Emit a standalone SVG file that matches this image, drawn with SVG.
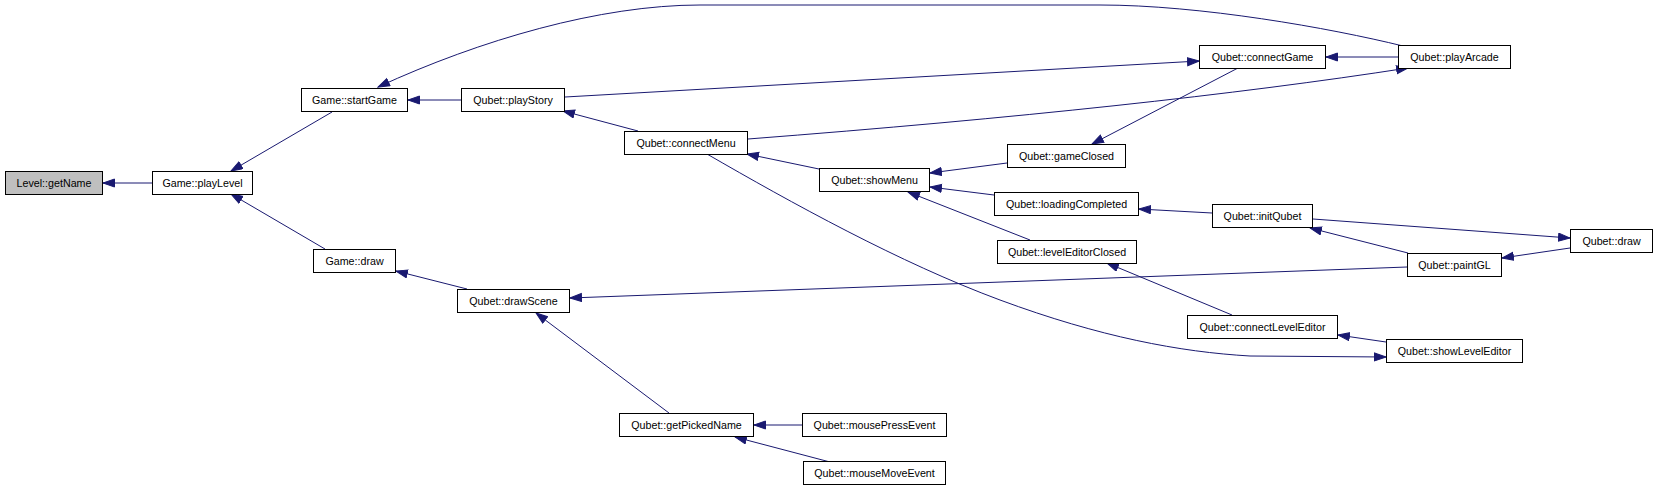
<svg xmlns="http://www.w3.org/2000/svg" width="1659" height="491" viewBox="0 0 1659 491">
<style>
.n rect{fill:#fff;stroke:#000;stroke-width:1}
.n.root rect{fill:#bfbfbf}
.n text{font-family:"Liberation Sans",Arial,sans-serif;font-size:10.7px;fill:#000;text-anchor:middle}
.e path{fill:none;stroke:#191970;stroke-width:1;marker-end:url(#ah)}
</style>
<defs>
<marker id="ah" markerUnits="userSpaceOnUse" markerWidth="13" markerHeight="10" refX="12" refY="4.5" orient="auto">
<path d="M0.5,0.5 L12,4.5 L0.5,8.5 z" fill="#191970" stroke="#191970" stroke-width="1"/>
</marker>
</defs>
<rect width="1659" height="491" fill="#fff"/>
<g id="edges" class="e">
<path d="M152,183 L103,183"/>
<path d="M332,112 L231,171"/>
<path d="M325,249 L231,194"/>
<path d="M462,100 L408,100"/>
<path d="M1403,46 C1330,28 1200,5 1100,5 L700,5 C600,5 480,40 378,87"/>
<path d="M638,131 L563,111"/>
<path d="M565,97 L1199,61"/>
<path d="M1398,57 L1326,57"/>
<path d="M748,139 Q1150,108 1408,68"/>
<path d="M1238,68 L1092,144"/>
<path d="M819,169 L747,154"/>
<path d="M1007,163 L930,173"/>
<path d="M994,195 L930,187"/>
<path d="M1030,240 L908,192"/>
<path d="M1212,213 L1139,209"/>
<path d="M1313,219 L1570,238"/>
<path d="M1408,253 L1310,228"/>
<path d="M1570,248 L1502,258"/>
<path d="M1407,267 L570,298"/>
<path d="M467,289 L396,271"/>
<path d="M669,413 L536,313"/>
<path d="M802,425 L754,425"/>
<path d="M830,462 L735,437"/>
<path d="M1232,315 L1107,263"/>
<path d="M1386,342 L1338,335"/>
<path d="M707,154 C790,202 900,263 1000,300 C1100,337 1180,352 1250,356 L1386,357"/>
</g>
<g id="n_getName" class="n root"><rect x="5.5" y="171.5" width="97" height="23"/><text x="54" y="186.5">Level::getName</text></g>
<g id="n_playLevel" class="n"><rect x="152.5" y="171.5" width="100" height="23"/><text x="202.5" y="186.5">Game::playLevel</text></g>
<g id="n_startGame" class="n"><rect x="301.5" y="88.5" width="106" height="23"/><text x="354.5" y="103.5">Game::startGame</text></g>
<g id="n_gameDraw" class="n"><rect x="313.5" y="249.5" width="82" height="23"/><text x="354.5" y="264.5">Game::draw</text></g>
<g id="n_playStory" class="n"><rect x="461.5" y="88.5" width="103" height="23"/><text x="513" y="103.5">Qubet::playStory</text></g>
<g id="n_connectMenu" class="n"><rect x="624.5" y="131.5" width="123" height="23"/><text x="686" y="146.5">Qubet::connectMenu</text></g>
<g id="n_drawScene" class="n"><rect x="457.5" y="289.5" width="112" height="23"/><text x="513.5" y="304.5">Qubet::drawScene</text></g>
<g id="n_getPickedName" class="n"><rect x="619.5" y="413.5" width="134" height="23"/><text x="686.5" y="428.5">Qubet::getPickedName</text></g>
<g id="n_showMenu" class="n"><rect x="819.5" y="168.5" width="110" height="23"/><text x="874.5" y="183.5">Qubet::showMenu</text></g>
<g id="n_connectGame" class="n"><rect x="1199.5" y="45.5" width="126" height="23"/><text x="1262.5" y="60.5">Qubet::connectGame</text></g>
<g id="n_playArcade" class="n"><rect x="1398.5" y="45.5" width="112" height="23"/><text x="1454.5" y="60.5">Qubet::playArcade</text></g>
<g id="n_gameClosed" class="n"><rect x="1007.5" y="144.5" width="118" height="23"/><text x="1066.5" y="159.5">Qubet::gameClosed</text></g>
<g id="n_loadingCompleted" class="n"><rect x="994.5" y="192.5" width="144" height="23"/><text x="1066.5" y="207.5">Qubet::loadingCompleted</text></g>
<g id="n_levelEditorClosed" class="n"><rect x="997.5" y="240.5" width="139" height="23"/><text x="1067" y="255.5">Qubet::levelEditorClosed</text></g>
<g id="n_initQubet" class="n"><rect x="1212.5" y="204.5" width="100" height="23"/><text x="1262.5" y="219.5">Qubet::initQubet</text></g>
<g id="n_qubetDraw" class="n"><rect x="1570.5" y="229.5" width="82" height="23"/><text x="1611.5" y="244.5">Qubet::draw</text></g>
<g id="n_paintGL" class="n"><rect x="1407.5" y="253.5" width="94" height="23"/><text x="1454.5" y="268.5">Qubet::paintGL</text></g>
<g id="n_connectLevelEditor" class="n"><rect x="1187.5" y="315.5" width="150" height="23"/><text x="1262.5" y="330.5">Qubet::connectLevelEditor</text></g>
<g id="n_showLevelEditor" class="n"><rect x="1386.5" y="339.5" width="136" height="23"/><text x="1454.5" y="354.5">Qubet::showLevelEditor</text></g>
<g id="n_mousePressEvent" class="n"><rect x="802.5" y="413.5" width="144" height="23"/><text x="874.5" y="428.5">Qubet::mousePressEvent</text></g>
<g id="n_mouseMoveEvent" class="n"><rect x="803.5" y="461.5" width="142" height="23"/><text x="874.5" y="476.5">Qubet::mouseMoveEvent</text></g>
</svg>
